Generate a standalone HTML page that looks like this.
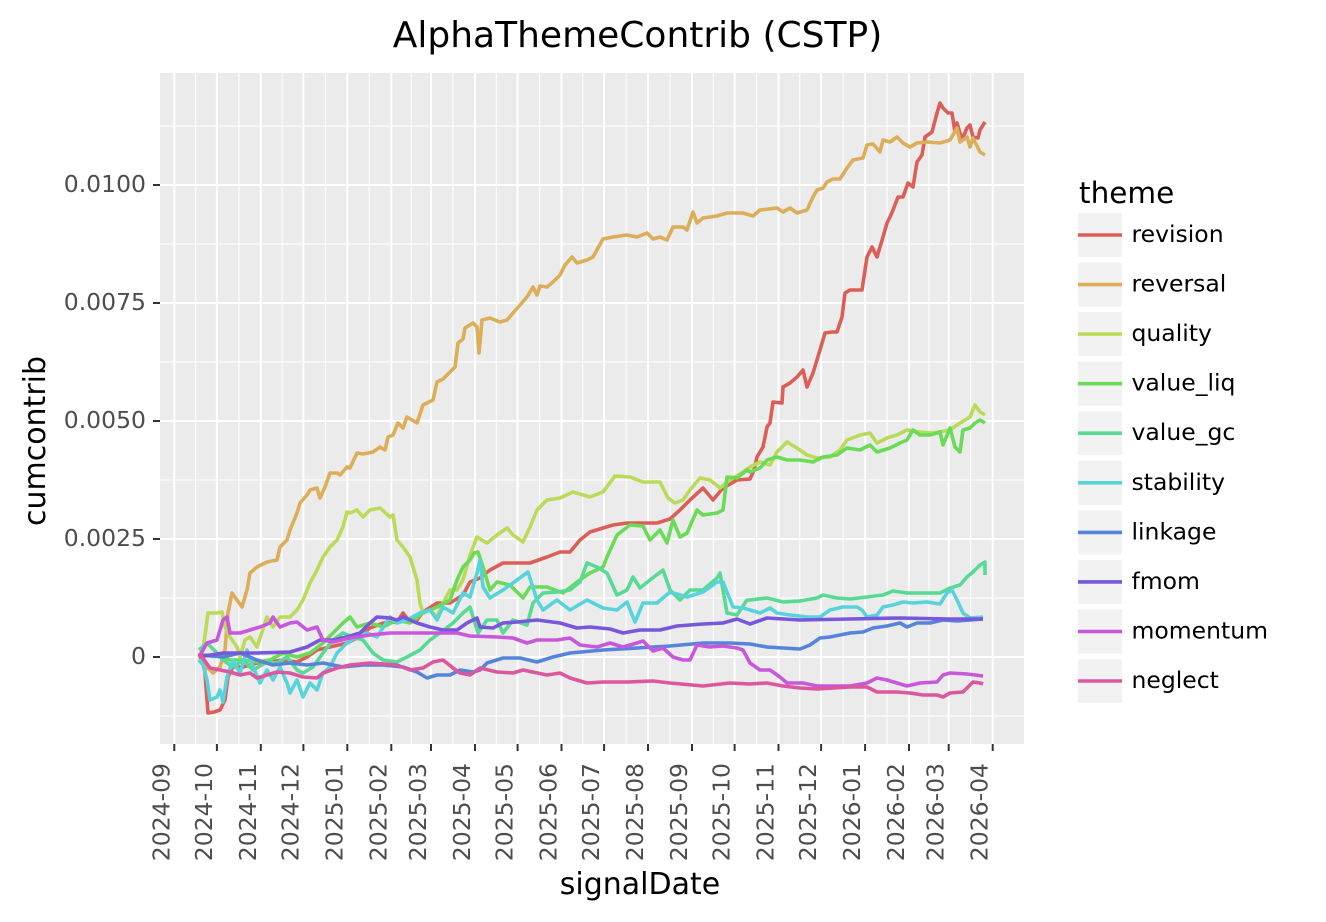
<!DOCTYPE html>
<html><head><meta charset="utf-8"><style>
html,body{margin:0;padding:0;background:#fff;}
svg{display:block;}
text{font-family:"DejaVu Sans","Liberation Sans",sans-serif;}
</style></head><body>
<svg width="1326" height="922" viewBox="0 0 1326 922" xmlns="http://www.w3.org/2000/svg">
<rect x="0" y="0" width="1326" height="922" fill="#fff"/>
<!-- panel -->
<rect x="160" y="73" width="864" height="671" fill="#ebebeb"/>
<g stroke="#fff" stroke-width="1">
<line x1="160" x2="1024" y1="126" y2="126"/><line x1="160" x2="1024" y1="244" y2="244"/><line x1="160" x2="1024" y1="362" y2="362"/><line x1="160" x2="1024" y1="480" y2="480"/><line x1="160" x2="1024" y1="598" y2="598"/><line x1="160" x2="1024" y1="716" y2="716"/>
<line y1="73" y2="744" x1="195.6" x2="195.6"/><line y1="73" y2="744" x1="238.9" x2="238.9"/><line y1="73" y2="744" x1="282.1" x2="282.1"/><line y1="73" y2="744" x1="325.4" x2="325.4"/><line y1="73" y2="744" x1="369.3" x2="369.3"/><line y1="73" y2="744" x1="411.2" x2="411.2"/><line y1="73" y2="744" x1="453" x2="453"/><line y1="73" y2="744" x1="496.3" x2="496.3"/><line y1="73" y2="744" x1="539.6" x2="539.6"/><line y1="73" y2="744" x1="582.8" x2="582.8"/><line y1="73" y2="744" x1="626.1" x2="626.1"/><line y1="73" y2="744" x1="670" x2="670"/><line y1="73" y2="744" x1="713.3" x2="713.3"/><line y1="73" y2="744" x1="756.6" x2="756.6"/><line y1="73" y2="744" x1="799.8" x2="799.8"/><line y1="73" y2="744" x1="843.1" x2="843.1"/><line y1="73" y2="744" x1="887.1" x2="887.1"/><line y1="73" y2="744" x1="928.9" x2="928.9"/><line y1="73" y2="744" x1="970.7" x2="970.7"/>
</g>
<g stroke="#fff" stroke-width="2">
<line x1="160" x2="1024" y1="185" y2="185"/><line x1="160" x2="1024" y1="303" y2="303"/><line x1="160" x2="1024" y1="421" y2="421"/><line x1="160" x2="1024" y1="539" y2="539"/><line x1="160" x2="1024" y1="657" y2="657"/>
<line y1="73" y2="744" x1="174.3" x2="174.3"/><line y1="73" y2="744" x1="216.9" x2="216.9"/><line y1="73" y2="744" x1="260.8" x2="260.8"/><line y1="73" y2="744" x1="303.4" x2="303.4"/><line y1="73" y2="744" x1="347.3" x2="347.3"/><line y1="73" y2="744" x1="391.3" x2="391.3"/><line y1="73" y2="744" x1="431" x2="431"/><line y1="73" y2="744" x1="475" x2="475"/><line y1="73" y2="744" x1="517.6" x2="517.6"/><line y1="73" y2="744" x1="561.5" x2="561.5"/><line y1="73" y2="744" x1="604.1" x2="604.1"/><line y1="73" y2="744" x1="648" x2="648"/><line y1="73" y2="744" x1="692" x2="692"/><line y1="73" y2="744" x1="734.6" x2="734.6"/><line y1="73" y2="744" x1="778.5" x2="778.5"/><line y1="73" y2="744" x1="821.1" x2="821.1"/><line y1="73" y2="744" x1="865.1" x2="865.1"/><line y1="73" y2="744" x1="909" x2="909" /><line y1="73" y2="744" x1="948.7" x2="948.7"/><line y1="73" y2="744" x1="992.7" x2="992.7"/>
</g>
<!-- series -->
<g fill="none" stroke-width="3.6" stroke-linejoin="round" stroke-linecap="butt">
<polyline stroke="#db5f57" points="199,657 204,660 207,700 208,713 214,712 220,710 225,700 228,677 233,667 243,667 257,663 270,662 283,660 297,662 307,657 317,650 330,647 347,643 357,638 370,628 383,623 397,622 403,613 410,622 417,620 423,612 437,603 450,603 463,595 470,582 480,578 490,570 503,563 530,563 547,557 560,552 570,552 580,540 590,532 603,528 613,525 627,523 640,523 657,523 670,519 680,510 690,500 703,488 713,500 723,488 737,480 750,479 754,470 757,457 763,447 767,427 770,423 773,402 782,403 783,387 790,383 797,377 803,370 807,387 813,373 820,350 825,333 832,332 837,332 842,317 845,293 850,290 862,290 867,257 872,247 877,257 883,237 887,223 890,217 893,210 898,197 903,197 908,183 913,187 917,162 922,155 925,137 932,132 937,113 940,103 943,108 948,113 952,113 955,132 957,123 962,140 967,128 970,125 973,137 978,138 980,130 985,122"/>
<polyline stroke="#dbae57" points="199,657 203,660 207,667 213,673 220,667 225,650 228,613 232,593 237,600 242,607 247,590 250,573 257,567 267,562 277,560 280,547 287,540 290,530 297,513 300,503 307,495 310,490 317,488 320,498 325,487 330,473 337,473 340,475 347,467 350,468 357,453 363,454 373,452 380,447 385,450 388,437 393,435 398,423 403,428 407,417 417,423 423,405 433,400 437,382 443,379 450,372 455,367 458,343 463,339 465,328 473,323 477,327 479,353 482,320 490,318 500,322 507,320 513,313 520,305 527,297 533,287 537,295 540,286 547,287 553,282 560,275 565,265 572,257 577,263 587,260 593,257 598,248 603,239 613,237 627,235 637,237 647,233 653,239 660,237 667,240 673,227 683,227 687,230 693,212 697,223 703,218 717,216 727,213 743,213 753,216 760,210 777,208 783,212 790,208 797,213 807,210 813,197 817,190 823,188 827,182 833,179 840,179 847,168 853,160 863,158 867,145 873,144 880,152 883,140 890,142 897,137 903,143 910,147 917,143 927,142 940,143 950,140 957,128 960,142 967,137 970,147 973,138 980,152 985,155"/>
<polyline stroke="#b9db57" points="199,657 203,650 208,613 217,613 222,612 225,627 230,637 237,647 240,657 245,640 250,637 257,647 267,617 273,627 280,617 290,617 297,610 303,600 310,583 317,570 323,557 330,547 337,540 343,527 347,512 350,513 357,510 363,517 370,510 380,508 390,517 393,515 397,540 403,547 410,557 417,580 420,603 423,613 430,610 437,617 443,603 450,590 457,590 463,580 470,555 477,537 487,543 497,535 507,528 513,535 523,542 530,527 537,510 547,500 560,498 573,492 590,497 603,492 615,476 630,477 643,482 660,482 668,498 675,503 683,500 690,490 700,478 710,480 720,488 730,480 743,472 750,467 760,462 770,465 777,452 787,442 797,448 807,455 817,458 830,457 840,450 847,440 860,435 870,433 877,443 887,438 897,435 907,430 920,432 933,433 950,430 960,423 970,417 975,405 980,412 985,415"/>
<polyline stroke="#69db57" points="199,655 217,655 230,660 243,660 257,662 270,660 283,653 297,657 310,653 323,643 333,633 343,623 350,617 357,627 370,623 383,627 397,620 410,623 423,613 437,607 450,600 457,580 463,567 470,560 474,553 478,552 483,567 490,590 497,582 510,585 523,598 530,587 547,587 563,593 577,582 590,573 603,567 607,557 617,535 630,525 643,526 650,540 660,530 667,543 673,520 680,537 687,533 697,510 703,515 717,513 723,510 727,477 737,478 747,470 750,472 760,468 767,460 777,457 787,460 800,460 813,462 823,457 837,455 847,448 860,450 870,445 877,452 890,448 900,443 907,440 913,430 920,435 930,435 940,432 943,445 950,428 955,447 960,452 963,430 970,428 975,423 980,420 985,423"/>
<polyline stroke="#57db94" points="199,650 207,643 217,653 223,660 233,667 243,660 253,670 267,662 277,663 287,657 297,670 303,673 313,667 323,653 333,640 343,633 353,637 363,640 373,653 383,660 397,662 407,657 420,650 430,640 440,633 453,623 463,613 470,607 478,633 487,620 497,620 503,633 513,620 527,625 533,603 543,593 557,592 570,590 580,582 587,563 597,567 607,573 617,595 627,590 633,577 640,588 650,580 663,570 670,590 680,600 690,590 703,590 717,578 720,573 727,613 737,615 747,600 750,600 767,598 783,602 800,601 817,598 823,595 837,598 850,599 867,597 883,595 893,591 907,593 923,593 940,593 950,588 960,585 967,577 973,572 980,565 985,562 985,575"/>
<polyline stroke="#57d3db" points="199,660 203,665 207,680 210,700 217,697 220,690 223,702 227,677 233,660 240,673 247,650 253,667 260,683 267,670 273,680 280,667 287,683 290,693 297,680 303,697 310,683 317,690 323,673 330,667 337,653 347,643 357,637 367,633 377,637 390,617 397,623 407,620 420,613 430,610 437,620 443,607 453,613 463,593 470,597 477,573 480,560 483,587 490,598 503,590 517,580 528,572 537,600 543,610 557,600 570,610 587,600 603,608 617,610 627,602 635,622 643,603 657,603 670,592 687,597 703,592 717,582 723,582 733,607 743,608 750,610 760,613 770,608 777,613 790,615 807,617 820,617 830,610 843,607 857,607 862,610 867,617 877,615 883,607 893,605 903,602 913,603 927,602 940,604 947,593 952,590 957,600 963,613 970,618 983,617"/>
<polyline stroke="#5784db" points="199,655 223,657 240,653 257,660 273,665 290,663 307,665 323,663 343,667 363,665 383,665 403,667 417,672 427,678 437,675 450,675 460,670 473,672 480,670 487,663 503,658 520,658 537,662 553,657 570,653 603,650 637,648 670,646 703,643 730,643 750,644 767,647 783,648 800,649 810,645 820,638 830,637 840,635 850,633 863,632 873,628 887,626 900,623 907,627 917,623 930,623 943,620 957,621 970,620 983,619"/>
<polyline stroke="#7957db" points="199,657 223,653 257,653 290,652 307,647 320,640 333,640 347,637 360,633 370,623 377,617 390,618 397,620 403,617 417,623 430,627 443,630 457,630 467,623 477,618 480,627 493,628 503,623 517,622 537,620 560,623 577,628 590,627 610,629 623,633 640,630 660,630 677,626 703,624 723,623 737,619 750,624 767,618 800,620 850,619 900,618 950,619 983,619"/>
<polyline stroke="#c957db" points="199,657 207,643 217,640 223,620 227,617 230,633 240,633 250,630 260,627 270,623 273,617 280,627 290,623 297,622 307,630 317,627 323,640 333,642 350,638 370,635 390,633 423,633 457,633 470,636 497,637 513,638 527,643 537,640 557,640 570,638 580,645 597,647 610,643 623,647 637,643 643,641 653,651 663,648 673,657 683,660 690,660 697,645 710,647 723,646 737,648 743,650 750,663 760,670 770,670 780,677 787,683 803,683 817,686 833,686 850,686 867,683 877,678 887,680 897,683 907,686 920,683 937,682 943,675 950,673 967,674 983,676"/>
<polyline stroke="#db579e" points="199,653 210,668 220,670 230,672 240,675 250,673 257,678 267,675 277,672 290,673 303,677 317,678 323,673 337,668 350,665 370,663 397,665 410,670 423,668 433,662 443,660 453,668 460,673 470,675 480,668 497,672 513,673 523,670 547,675 560,673 570,678 587,683 603,682 627,682 653,681 670,683 703,686 730,683 750,684 767,683 783,686 800,688 817,689 850,687 867,687 877,692 897,692 910,693 923,695 937,695 943,697 950,693 963,692 973,682 980,683 983,684"/>
</g>
<!-- axis ticks -->
<g stroke="#333" stroke-width="2">
<line x1="153" x2="160" y1="185" y2="185"/><line x1="153" x2="160" y1="303" y2="303"/><line x1="153" x2="160" y1="421" y2="421"/><line x1="153" x2="160" y1="539" y2="539"/><line x1="153" x2="160" y1="657" y2="657"/>
<line y1="744" y2="751" x1="174.3" x2="174.3"/><line y1="744" y2="751" x1="216.9" x2="216.9"/><line y1="744" y2="751" x1="260.8" x2="260.8"/><line y1="744" y2="751" x1="303.4" x2="303.4"/><line y1="744" y2="751" x1="347.3" x2="347.3"/><line y1="744" y2="751" x1="391.3" x2="391.3"/><line y1="744" y2="751" x1="431" x2="431"/><line y1="744" y2="751" x1="475" x2="475"/><line y1="744" y2="751" x1="517.6" x2="517.6"/><line y1="744" y2="751" x1="561.5" x2="561.5"/><line y1="744" y2="751" x1="604.1" x2="604.1"/><line y1="744" y2="751" x1="648" x2="648"/><line y1="744" y2="751" x1="692" x2="692"/><line y1="744" y2="751" x1="734.6" x2="734.6"/><line y1="744" y2="751" x1="778.5" x2="778.5"/><line y1="744" y2="751" x1="821.1" x2="821.1"/><line y1="744" y2="751" x1="865.1" x2="865.1"/><line y1="744" y2="751" x1="909" x2="909"/><line y1="744" y2="751" x1="948.7" x2="948.7"/><line y1="744" y2="751" x1="992.7" x2="992.7"/>
</g>
<!-- y tick labels -->
<g fill="#4d4d4d" font-size="23.5" text-anchor="end">
<text x="146" y="192">0.0100</text>
<text x="146" y="310">0.0075</text>
<text x="146" y="428">0.0050</text>
<text x="146" y="546">0.0025</text>
<text x="146" y="664">0</text>
</g>
<!-- x tick labels -->
<g fill="#4d4d4d" font-size="23.5" text-anchor="end">
<text transform="translate(169.3,763) rotate(-90)">2024-09</text>
<text transform="translate(211.9,763) rotate(-90)">2024-10</text>
<text transform="translate(255.8,763) rotate(-90)">2024-11</text>
<text transform="translate(298.4,763) rotate(-90)">2024-12</text>
<text transform="translate(342.3,763) rotate(-90)">2025-01</text>
<text transform="translate(386.3,763) rotate(-90)">2025-02</text>
<text transform="translate(426,763) rotate(-90)">2025-03</text>
<text transform="translate(470,763) rotate(-90)">2025-04</text>
<text transform="translate(512.6,763) rotate(-90)">2025-05</text>
<text transform="translate(556.5,763) rotate(-90)">2025-06</text>
<text transform="translate(599.1,763) rotate(-90)">2025-07</text>
<text transform="translate(643,763) rotate(-90)">2025-08</text>
<text transform="translate(687,763) rotate(-90)">2025-09</text>
<text transform="translate(729.6,763) rotate(-90)">2025-10</text>
<text transform="translate(773.5,763) rotate(-90)">2025-11</text>
<text transform="translate(816.1,763) rotate(-90)">2025-12</text>
<text transform="translate(860.1,763) rotate(-90)">2026-01</text>
<text transform="translate(904,763) rotate(-90)">2026-02</text>
<text transform="translate(943.7,763) rotate(-90)">2026-03</text>
<text transform="translate(987.7,763) rotate(-90)">2026-04</text>
</g>
<!-- titles -->
<text x="637.5" y="47" font-size="36" text-anchor="middle" fill="#000">AlphaThemeContrib (CSTP)</text>
<text x="640" y="894" font-size="30" text-anchor="middle" fill="#000">signalDate</text>
<text transform="translate(45,441) rotate(-90)" font-size="30" text-anchor="middle" fill="#000">cumcontrib</text>
<!-- legend -->
<text x="1079" y="203" font-size="29.5" fill="#000">theme</text>
<g fill="#f2f2f2">
<rect x="1078" y="213" width="44" height="44"/>
<rect x="1078" y="262.6" width="44" height="44"/>
<rect x="1078" y="312.1" width="44" height="44"/>
<rect x="1078" y="361.7" width="44" height="44"/>
<rect x="1078" y="411.2" width="44" height="44"/>
<rect x="1078" y="460.8" width="44" height="44"/>
<rect x="1078" y="510.4" width="44" height="44"/>
<rect x="1078" y="559.9" width="44" height="44"/>
<rect x="1078" y="609.5" width="44" height="44"/>
<rect x="1078" y="659" width="44" height="44"/>
</g>
<g stroke-width="3.6">
<line x1="1078" x2="1122" y1="235" y2="235" stroke="#db5f57"/>
<line x1="1078" x2="1122" y1="284.6" y2="284.6" stroke="#dbae57"/>
<line x1="1078" x2="1122" y1="334.1" y2="334.1" stroke="#b9db57"/>
<line x1="1078" x2="1122" y1="383.7" y2="383.7" stroke="#69db57"/>
<line x1="1078" x2="1122" y1="433.2" y2="433.2" stroke="#57db94"/>
<line x1="1078" x2="1122" y1="482.8" y2="482.8" stroke="#57d3db"/>
<line x1="1078" x2="1122" y1="532.4" y2="532.4" stroke="#5784db"/>
<line x1="1078" x2="1122" y1="581.9" y2="581.9" stroke="#7957db"/>
<line x1="1078" x2="1122" y1="631.5" y2="631.5" stroke="#c957db"/>
<line x1="1078" x2="1122" y1="681" y2="681" stroke="#db579e"/>
</g>
<g font-size="23.5" fill="#000">
<text x="1131.5" y="242">revision</text>
<text x="1131.5" y="291.6">reversal</text>
<text x="1131.5" y="341.1">quality</text>
<text x="1131.5" y="390.7">value_liq</text>
<text x="1131.5" y="440.2">value_gc</text>
<text x="1131.5" y="489.8">stability</text>
<text x="1131.5" y="539.4">linkage</text>
<text x="1131.5" y="588.9">fmom</text>
<text x="1131.5" y="638.5">momentum</text>
<text x="1131.5" y="688">neglect</text>
</g>
</svg>
</body></html>
